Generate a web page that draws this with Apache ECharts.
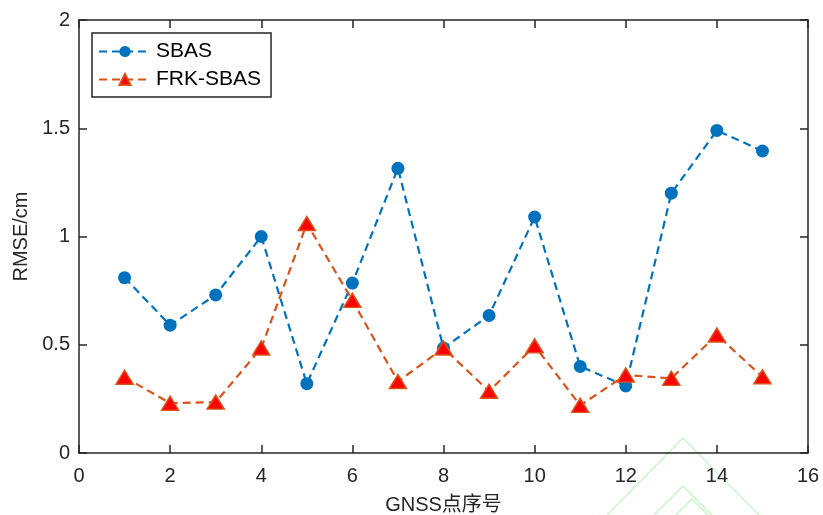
<!DOCTYPE html>
<html>
<head>
<meta charset="utf-8">
<script src="https://cdn.jsdelivr.net/npm/echarts@6/dist/echarts.min.js"></script>
<style>
  html, body { margin: 0; padding: 0; background: #fff; }
  #main { width: 823px; height: 515px; }
</style>
</head>
<body>
<div id="main"></div>
<script>
const pointIds = [1, 2, 3, 4, 5, 6, 7, 8, 9, 10, 11, 12, 13, 14, 15];
const sbas = [0.81, 0.59, 0.73, 1.0, 0.32, 0.785, 1.315, 0.485, 0.635, 1.09, 0.40, 0.31, 1.20, 1.49, 1.395];
const frkSbas = [0.35, 0.23, 0.235, 0.485, 1.06, 0.705, 0.33, 0.485, 0.285, 0.495, 0.22, 0.36, 0.345, 0.545, 0.352];
const xTicks = [0, 2, 4, 6, 8, 10, 12, 14, 16];
const yTicks = [0, 0.5, 1, 1.5, 2];

const chart = echarts.init(document.getElementById('main'), null, { renderer: 'canvas' });

const axisColor = '#262626';
const fontFamily = 'Arial, "Liberation Sans", "Noto Sans CJK SC", sans-serif';

const pair = (ys) => pointIds.map((x, i) => [x, ys[i]]);

const xBase = {
    type: 'value', min: 0, max: 16, interval: 2,
    axisLine: { show: true, onZero: false, lineStyle: { color: axisColor, width: 1.5 } },
    axisTick: { show: true, inside: true, length: 8, lineStyle: { color: axisColor, width: 1.5 } },
    splitLine: { show: false }
};
const yBase = {
    type: 'value', min: 0, max: 2, interval: 0.5,
    axisLine: { show: true, onZero: false, lineStyle: { color: axisColor, width: 1.5 } },
    axisTick: { show: true, inside: true, length: 8, lineStyle: { color: axisColor, width: 1.5 } },
    splitLine: { show: false }
};

// faint watermark in the lower right corner of the source picture
const wmStyle = { stroke: '#c9f7c9', lineWidth: 1.5, fill: null };
const watermark = [
    { type: 'polyline', silent: true, z: 0, shape: { points: [[607, 515], [683, 438], [759, 515]] }, style: wmStyle },
    { type: 'polyline', silent: true, z: 0, shape: { points: [[654, 515], [683, 486], [712, 515]] }, style: wmStyle },
    { type: 'polyline', silent: true, z: 0, shape: { points: [[676, 515], [692, 499], [708, 515]] }, style: wmStyle }
];

const option = {
    backgroundColor: '#fff',
    animation: false,
    textStyle: { fontFamily: fontFamily },
    grid: { left: 79, right: 15, top: 20, bottom: 62, containLabel: false, outerBoundsMode: 'none' },
    graphic: watermark,
    legend: {
        left: 92, top: 33,
        orient: 'vertical',
        itemWidth: 52, itemHeight: 14,
        itemGap: 7,
        padding: [8, 10, 7, 6],
        borderColor: axisColor, borderWidth: 1.5,
        backgroundColor: '#fff',
        textStyle: { fontSize: 21, color: '#000', fontFamily: fontFamily },
        data: ['SBAS', 'FRK-SBAS']
    },
    xAxis: [
        Object.assign({}, xBase, {
            position: 'bottom',
            name: 'GNSS点序号', nameLocation: 'middle', nameGap: 42,
            nameTextStyle: { fontSize: 20, color: '#262626' },
            axisLabel: { fontSize: 20, color: '#262626', margin: 13,
                formatter: (v) => xTicks.includes(v) ? String(v) : '' }
        }),
        Object.assign({}, xBase, { position: 'top', axisLabel: { show: false } })
    ],
    yAxis: [
        Object.assign({}, yBase, {
            position: 'left',
            name: 'RMSE/cm', nameLocation: 'middle', nameGap: 47,
            nameTextStyle: { fontSize: 20, color: '#262626' },
            axisLabel: { fontSize: 20, color: '#262626', margin: 9,
                formatter: (v) => yTicks.includes(v) ? String(v) : '' }
        }),
        Object.assign({}, yBase, { position: 'right', axisLabel: { show: false } })
    ],
    series: [
        {
            name: 'SBAS', type: 'line',
            data: pair(sbas),
            symbol: 'circle', symbolSize: 13,
            itemStyle: { color: '#0072BD' },
            lineStyle: { color: '#0072BD', width: 2.2, type: [8, 5] },
            z: 3
        },
        {
            name: 'FRK-SBAS', type: 'line',
            data: pair(frkSbas),
            symbol: 'triangle', symbolSize: [17, 14],
            itemStyle: { color: '#FF0000', borderColor: '#D95319', borderWidth: 1.5 },
            lineStyle: { color: '#D95319', width: 2.2, type: [8, 5] },
            z: 4
        }
    ]
};

chart.setOption(option);
</script>
</body>
</html>
